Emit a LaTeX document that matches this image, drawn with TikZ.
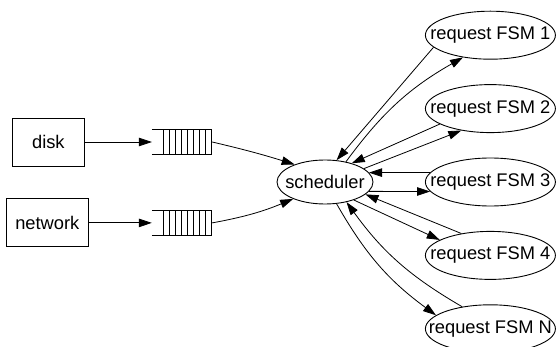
\documentclass[tikz,border=0pt]{standalone}
\usepackage{fontspec}
\setmainfont{Liberation Sans}
\usepackage{tikz}
\usetikzlibrary{shapes,arrows.meta,positioning}
\newcommand{\lblfont}{\fontsize{18.3}{20}\selectfont}
\tikzstyle{src} = [rectangle, draw, line width=0.9pt, minimum width=72pt, minimum height=48pt, inner xsep=9pt, font=\lblfont]
\tikzstyle{fsm} = [ellipse, draw, line width=0.9pt, minimum width=130pt, minimum height=48pt, inner xsep=-20pt, inner ysep=0pt, font=\lblfont]
\tikzstyle{sched} = [ellipse, draw, line width=0.9pt, minimum width=96pt, minimum height=44pt, inner xsep=-20pt, inner ysep=0pt, font=\lblfont]
\tikzstyle{queue} = [rectangle, draw=none, minimum width=60pt, minimum height=24pt, inner sep=0pt]
\tikzstyle{qline} = [draw, line width=0.8pt]
\tikzstyle{tedge}  = [draw, line width=0.8pt, -{Triangle[length=13pt,width=8.5pt]}]

\begin{document}
\begin{tikzpicture}[x=1pt,y=-1pt]
\useasboundingbox[fill=white] (0,0) rectangle (557,347);

% nodes =============================
\node[sched] (sd) at (325,182) {scheduler};
\node[fsm, right=51.5pt of sd] (f3) {request FSM 3};
\node[fsm, above=24.5pt of f3] (f2) {request FSM 2};
\node[fsm, above=24.5pt of f2] (f1) {request FSM 1};
\node[fsm, below=24.5pt of f3] (f4) {request FSM 4};
\node[fsm, below=24.5pt of f4] (fn) {request FSM N};

\node[queue] (dq) at (182,142) {};
\node[queue, below=56.5pt of dq] (nq) {};
\node[src, left=67pt of dq] (disk) {disk};
\node[src, left=63pt of nq] (net) {network};

% queue slots =============================
\foreach \q in {dq,nq} {
  \draw[qline] (\q.north west) -- (\q.north east) (\q.south west) -- (\q.south east);
  \foreach \k in {12,18,...,60}
    \draw[qline] ([xshift=\k pt]\q.north west) -- ([xshift=\k pt]\q.south west);
}

% edges =============================
\path[tedge] (disk) -- (dq);
\path[tedge] (net) -- (nq);
\path[tedge] (dq.east) to[bend left=2] (sd.150);
\path[tedge] (nq.east) to[bend right=6] (sd.-152);

\path[tedge] (f1.192) -- (sd.62);
\path[tedge] (sd.44) to[bend left=12] (f1.219);
\path[tedge] (f2.197) -- (sd.35);
\path[tedge] (sd.19) -- (f2.217);
\path[tedge] (f3.171) -- (sd.12.4);
\path[tedge] (sd.-12.4) -- (f3.189);
\path[tedge] (f4.143) -- (sd.-17);
\path[tedge] (sd.-32) -- (f4.163.5);
\path[tedge] (fn.142) to[bend left=12] (sd.-43);
\path[tedge] (sd.-62) to[bend right=12] (fn.166);

\end{tikzpicture}
\end{document}
